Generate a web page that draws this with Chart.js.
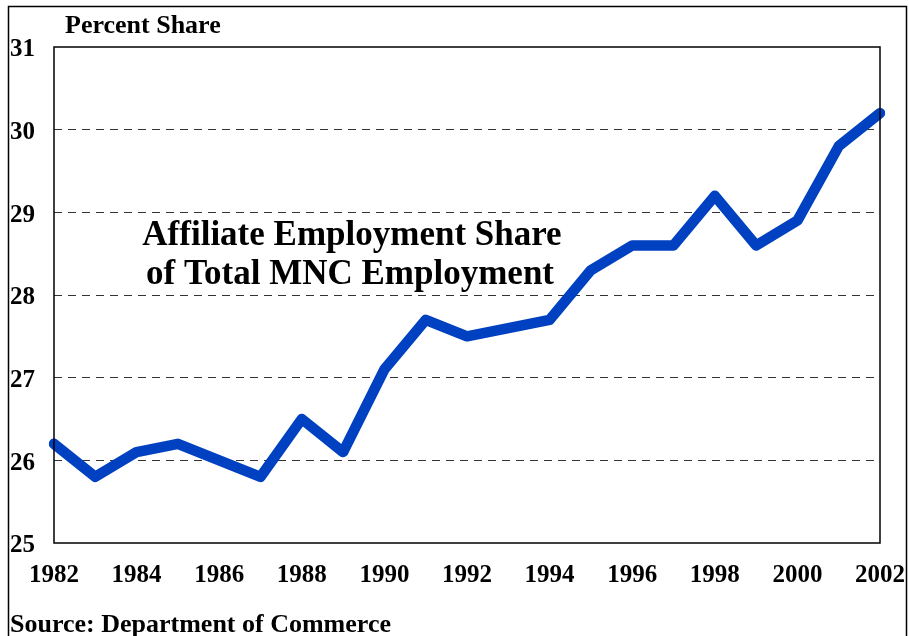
<!DOCTYPE html>
<html>
<head>
<meta charset="utf-8">
<script src="https://cdn.jsdelivr.net/npm/chart.js@4/dist/chart.umd.min.js"></script>
<style>
  html, body { margin: 0; padding: 0; background: #fff; }
  #wrap { width: 909px; height: 636px; position: relative; }
</style>
</head>
<body>
<div id="wrap"><canvas id="myChart" width="909" height="636"></canvas></div>
<script>
// Chart data
var years = ['1982', '1983', '1984', '1985', '1986', '1987', '1988', '1989', '1990', '1991',
             '1992', '1993', '1994', '1995', '1996', '1997', '1998', '1999', '2000', '2001', '2002'];
var affiliateShare = [26.2, 25.8, 26.1, 26.2, 26.0, 25.8, 26.5, 26.1, 27.1, 27.7,
                      27.5, 27.6, 27.7, 28.3, 28.6, 28.6, 29.2, 28.6, 28.9, 29.8, 30.2];
var yTicks = [25, 26, 27, 28, 29, 30, 31];
var annotationLines = ['Affiliate Employment Share', 'of Total MNC Employment'];

var serif = '"Liberation Serif", "Times New Roman", serif';

// Frame, plot box and text labels
var extras = {
    id: 'extras',
    beforeDraw: function(chart) {
        var c = chart.ctx;
        c.save();
        c.fillStyle = '#fff';
        c.fillRect(0, 0, chart.width, chart.height);
        // outer frame
        c.strokeStyle = '#000';
        c.lineWidth = 1.5;
        c.beginPath();
        c.moveTo(8.5, 640);
        c.lineTo(8.5, 6.5);
        c.lineTo(906.5, 6.5);
        c.lineTo(906.5, 640);
        c.stroke();
        c.restore();
    },
    afterDatasetsDraw: function(chart) {
        var c = chart.ctx;
        var a = chart.chartArea;
        c.save();
        c.strokeStyle = '#000';
        c.lineWidth = 1.5;
        c.strokeRect(a.left, a.top, a.right - a.left, a.bottom - a.top);
        c.fillStyle = '#000';
        c.textBaseline = 'alphabetic';
        c.textAlign = 'left';
        c.font = 'bold 26px ' + serif;
        c.fillText('Percent Share', 65, 33);
        c.fillText('Source: Department of Commerce', 10, 632);
        c.textAlign = 'center';
        c.font = 'bold 35px ' + serif;
        c.fillText(annotationLines[0], 352, 245);
        c.fillText(annotationLines[1], 350, 284);
        c.restore();
    }
};

var ctx = document.getElementById('myChart').getContext('2d');
var myChart = new Chart(ctx, {
    type: 'line',
    data: {
        labels: years,
        datasets: [{
            label: 'Affiliate share',
            data: affiliateShare,
            borderColor: '#0041c2',
            borderWidth: 10.5,
            borderCapStyle: 'round',
            borderJoinStyle: 'round',
            pointRadius: 0,
            tension: 0,
            fill: false
        }]
    },
    options: {
        responsive: false,
        animation: false,
        layout: { padding: { left: 10, right: 29, top: 47, bottom: 48 } },
        plugins: {
            legend: { display: false },
            tooltip: { enabled: false }
        },
        scales: {
            x: {
                type: 'category',
                offset: false,
                grid: { display: false },
                border: { display: false },
                ticks: {
                    autoSkip: false,
                    maxRotation: 0,
                    padding: 10,
                    color: '#000',
                    font: { family: serif, size: 25, weight: 'bold' },
                    callback: function(value, index) {
                        return index % 2 === 0 ? years[index] : '';
                    }
                },
                afterFit: function(scale) {
                    scale.height = 45;
                    scale.paddingLeft = 0;
                    scale.paddingRight = 0;
                }
            },
            y: {
                min: 25,
                max: 31,
                afterBuildTicks: function(scale) {
                    scale.ticks = yTicks.map(function(v) { return { value: v }; });
                },
                grid: {
                    drawTicks: false,
                    color: function(c) {
                        var v = c.tick ? c.tick.value : null;
                        return (v === 25 || v === 31) ? 'rgba(0,0,0,0)' : '#333';
                    },
                    lineWidth: 1
                },
                border: { display: false, dash: [8, 6] },
                ticks: {
                    crossAlign: 'far',
                    padding: 0,
                    labelOffset: 3,
                    color: '#000',
                    font: { family: serif, size: 25, weight: 'bold' }
                },
                afterFit: function(scale) {
                    scale.width = 44;
                    scale.paddingTop = 0;
                    scale.paddingBottom = 0;
                }
            }
        }
    },
    plugins: [extras]
});
</script>
</body>
</html>
